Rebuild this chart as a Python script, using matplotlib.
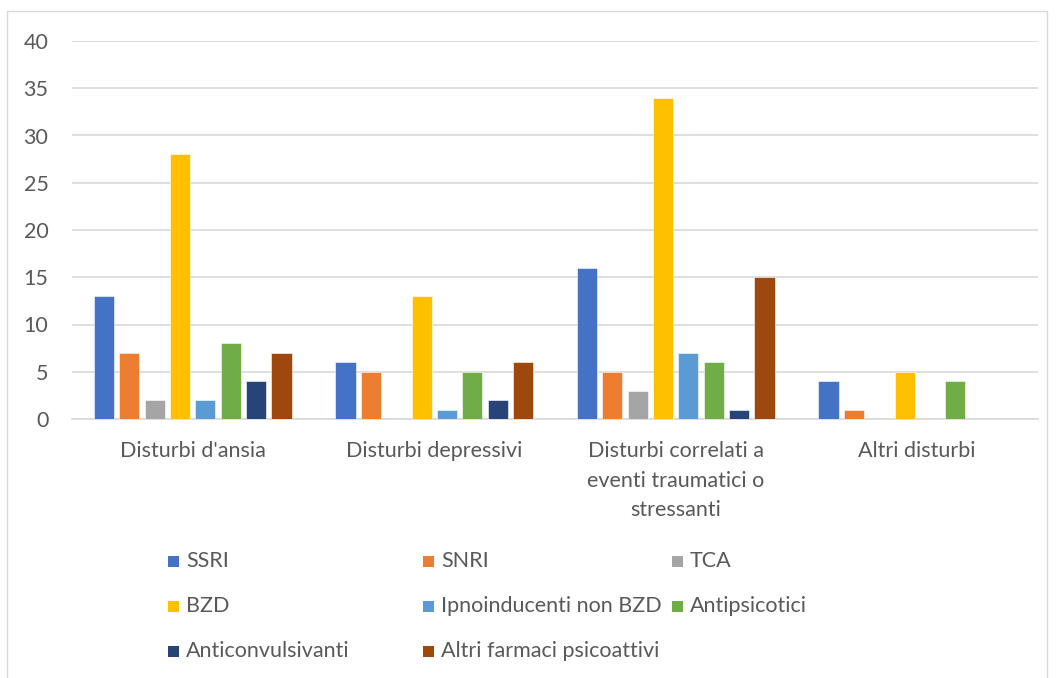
import matplotlib
matplotlib.use("Agg")
import matplotlib.pyplot as plt
from matplotlib.patches import Rectangle
import numpy as np

plt.rcParams['font.family'] = ['Lato', 'DejaVu Sans']

categories = ["Disturbi d'ansia", "Disturbi depressivi",
              "Disturbi correlati a\neventi traumatici o\nstressanti", "Altri disturbi"]
series_names = ["SSRI", "SNRI", "TCA", "BZD", "Ipnoinducenti non BZD",
                "Antipsicotici", "Anticonvulsivanti", "Altri farmaci psicoattivi"]
ssri = [13, 6, 16, 4]
snri = [7, 5, 5, 1]
tca = [2, 0, 3, 0]
bzd = [28, 13, 34, 5]
ipno = [2, 1, 7, 0]
antipsicotici = [8, 5, 6, 4]
anticonvulsivanti = [4, 2, 1, 0]
altri = [7, 6, 15, 0]
series_values = [ssri, snri, tca, bzd, ipno, antipsicotici, anticonvulsivanti, altri]
colors = ["#4472C4", "#ED7D31", "#A5A5A5", "#FFC000", "#5B9BD5",
          "#70AD47", "#264478", "#9E480E"]
yticks = [0, 5, 10, 15, 20, 25, 30, 35, 40]

W, H = 1056, 678
TEXT = "#595959"
FS = 15.5
fig = plt.figure(figsize=(W / 100, H / 100), dpi=100)
fig.patch.set_facecolor("white")

# outer chart frame
fig.add_artist(Rectangle((7 / W, -0.02), (1047 - 7) / W, 1.02 - 11 / H,
                         transform=fig.transFigure, fill=False,
                         edgecolor="#D9D9D9", linewidth=1.0))

ax = fig.add_axes([72 / W, 1 - 419 / H, (1038 - 72) / W, (419 - 41) / H])
x = np.arange(len(categories))
slot = 0.105
bar_w = 0.083
n = len(series_values)
for i, (vals, c) in enumerate(zip(series_values, colors)):
    offs = (i - (n - 1) / 2) * slot
    ax.bar(x + offs, vals, width=bar_w, color=c, edgecolor="white",
           linewidth=0.4, zorder=3)

ax.set_xlim(-0.5, len(categories) - 0.5)
ax.set_ylim(0, 40)
ax.set_yticks(yticks)
ax.set_yticklabels([str(t) for t in yticks])
ax.grid(axis="y", color="#D9D9D9", linewidth=1.2, zorder=0)
for s in ["top", "right", "left"]:
    ax.spines[s].set_visible(False)
ax.spines["bottom"].set_color("#D9D9D9")
ax.spines["bottom"].set_linewidth(1.2)
ax.tick_params(axis="y", length=0, pad=17, labelsize=FS, labelcolor=TEXT)
ax.tick_params(axis="x", length=0, pad=16, labelsize=FS, labelcolor=TEXT)
ax.set_xticks(x)
ax.set_xticklabels(categories, linespacing=1.6, va="top")

# legend laid out in a 3-column grid
col_x = [168, 423, 672]
row_y = [561, 606, 651]
for i, (name, c) in enumerate(zip(series_names, colors)):
    r, cidx = divmod(i, 3)
    px, py = col_x[cidx], row_y[r]
    fig.add_artist(Rectangle((px / W, 1 - (py + 6) / H), 11 / W, 11 / H,
                             transform=fig.transFigure, facecolor=c,
                             edgecolor="none"))
    fig.text((px + 18) / W, 1 - py / H, name, fontsize=FS, color=TEXT,
             va="center", ha="left")

fig.savefig("out.png", dpi=100, facecolor="white")
